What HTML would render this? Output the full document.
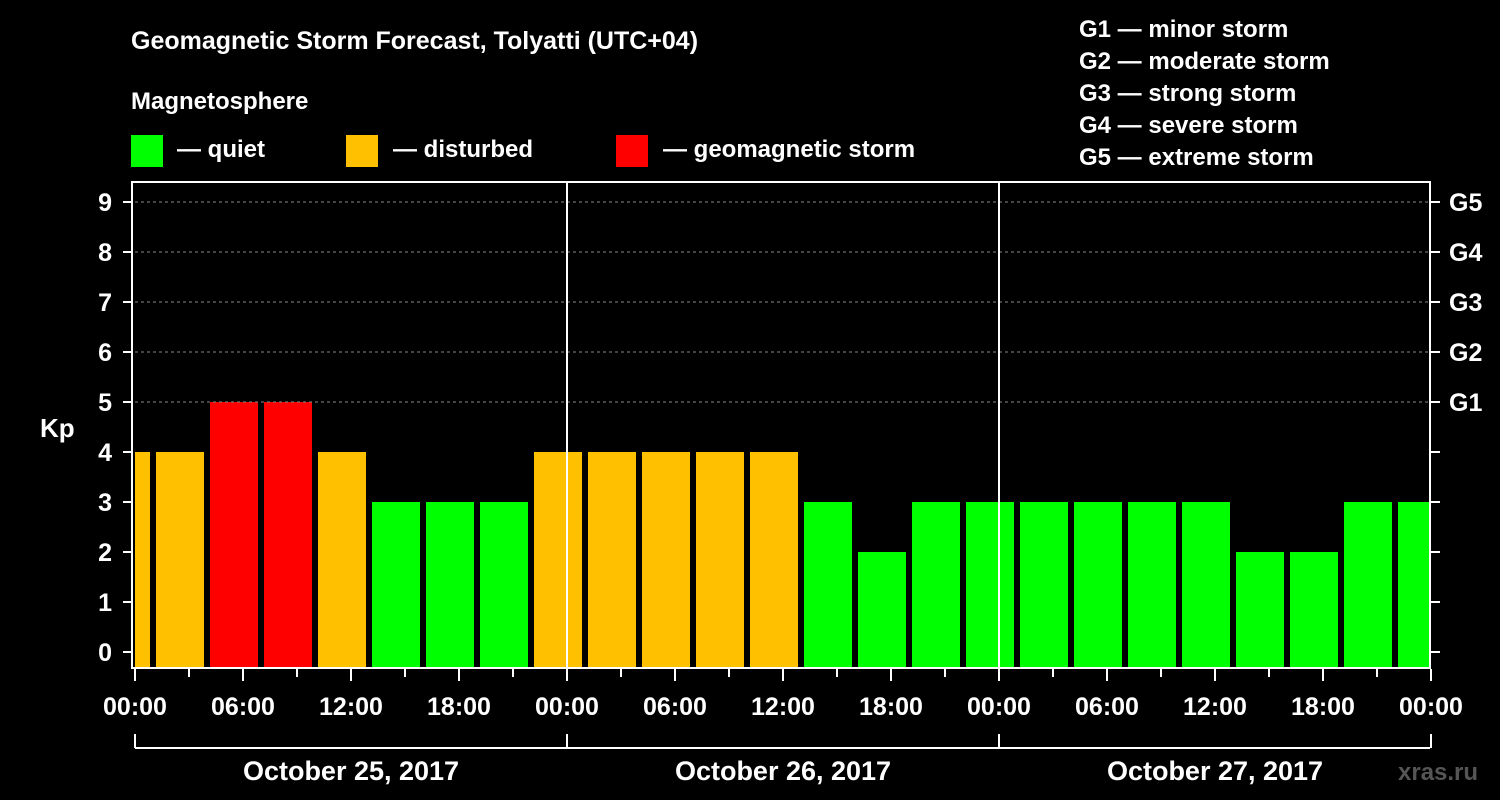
<!DOCTYPE html>
<html><head><meta charset="utf-8"><style>
body{margin:0;background:#000;}
svg{display:block;font-family:"Liberation Sans",sans-serif;font-weight:bold;}
</style></head><body>
<svg id="c" width="1500" height="800">
<rect width="1500" height="800" fill="#000"/>
<text x="131" y="49" fill="#fff" font-size="25">Geomagnetic Storm Forecast, Tolyatti (UTC+04)</text>
<text x="131" y="109" fill="#fff" font-size="24">Magnetosphere</text>
<g><rect x="131" y="135" width="32" height="32" fill="#00ff00"/><text x="177" y="157" fill="#fff" font-size="24">— quiet</text></g>
<g><rect x="346" y="135" width="32" height="32" fill="#ffc000"/><text x="393" y="157" fill="#fff" font-size="24">— disturbed</text></g>
<g><rect x="616" y="135" width="32" height="32" fill="#ff0000"/><text x="663" y="157" fill="#fff" font-size="24">— geomagnetic storm</text></g>
<g fill="#fff" font-size="24">
<text x="1079" y="37">G1 — minor storm</text>
<text x="1079" y="69">G2 — moderate storm</text>
<text x="1079" y="101">G3 — strong storm</text>
<text x="1079" y="133">G4 — severe storm</text>
<text x="1079" y="165">G5 — extreme storm</text>
</g>
<text x="40" y="437" fill="#fff" font-size="26">Kp</text>
<text x="1398" y="780" fill="#555" font-size="24">xras.ru</text>
<g id="plot"></g>
</svg>
<script>
const kpValues=[4,4,5,5,4,3,3,3,4,4,4,4,4,3,2,3,3,3,3,3,3,2,2,3,3];
const yTicks=[0,1,2,3,4,5,6,7,8,9];
const gLabels=["G1","G2","G3","G4","G5"];
const dateLabels=["October 25, 2017","October 26, 2017","October 27, 2017"];
const timeLabels=["00:00","06:00","12:00","18:00"];
const NS="http://www.w3.org/2000/svg";
const X0=135,X1=1430,PX_H=18;
const xh=h=>X0+h*PX_H;
const y=v=>652-v*50;
const g=document.getElementById('plot');
function mk(t,a){const e=document.createElementNS(NS,t);for(const k in a)e.setAttribute(k,a[k]);g.appendChild(e);return e;}
// bars: first interval starts at -2h local, each 3h
kpValues.forEach((v,i)=>{
  let s=-2+3*i,e=s+3;
  let xa=Math.max(xh(s)+3,X0),xb=Math.min(xh(e)-3,X1);
  const c=v>=5?"#ff0000":v>=4?"#ffc000":"#00ff00";
  const r=mk('rect',{x:xa,y:y(v),width:xb-xa,height:668-y(v),fill:c});
  
  
});
// grid dashed 5-9
[5,6,7,8,9].forEach((v,i)=>{
  const l=mk('line',{x1:X0,x2:X1,y1:y(v),y2:y(v),stroke:"#888","stroke-dasharray":"3,3","stroke-width":1});
  
  
  const t=mk('text',{x:1449,y:y(v)+9,fill:"#fff","font-size":25});
  t.textContent=gLabels[i];
  
  
});
// day separators
[1,2].forEach(d=>{const l=mk('line',{x1:xh(24*d),x2:xh(24*d),y1:182,y2:668,stroke:"#fff","stroke-width":2});
  
  });
// frame
const f=mk('rect',{x:132,y:182,width:X1-132,height:486,fill:"none",stroke:"#fff","stroke-width":2});


yTicks.forEach(v=>{
  mk('line',{x1:123,x2:131,y1:y(v),y2:y(v),stroke:"#fff","stroke-width":2});
  mk('line',{x1:1431,x2:1440,y1:y(v),y2:y(v),stroke:"#fff","stroke-width":2});
  const t=mk('text',{x:112,y:y(v)+9,fill:"#fff","font-size":25,"text-anchor":"end"});
  t.textContent=v;
  
  
});
for(let h=0;h<=72;h+=3){
  const major=h%6===0;
  mk('line',{x1:xh(h),x2:xh(h),y1:669,y2:major?681:677,stroke:"#fff","stroke-width":2});
  if(major){const t=mk('text',{x:xh(h),y:715,fill:"#fff","font-size":25,"text-anchor":"middle"});
    t.textContent=timeLabels[(h/6)%4];
    
    }
}
mk('line',{x1:X0,x2:X1,y1:748,y2:748,stroke:"#fff","stroke-width":2});
for(let d=0;d<=3;d++) mk('line',{x1:xh(24*d),x2:xh(24*d),y1:734,y2:748,stroke:"#fff","stroke-width":2});
dateLabels.forEach((s,d)=>{const t=mk('text',{x:xh(24*d+12),y:780,fill:"#fff","font-size":27,"text-anchor":"middle"});
  t.textContent=s;
  
  });
</script>
</body></html>
